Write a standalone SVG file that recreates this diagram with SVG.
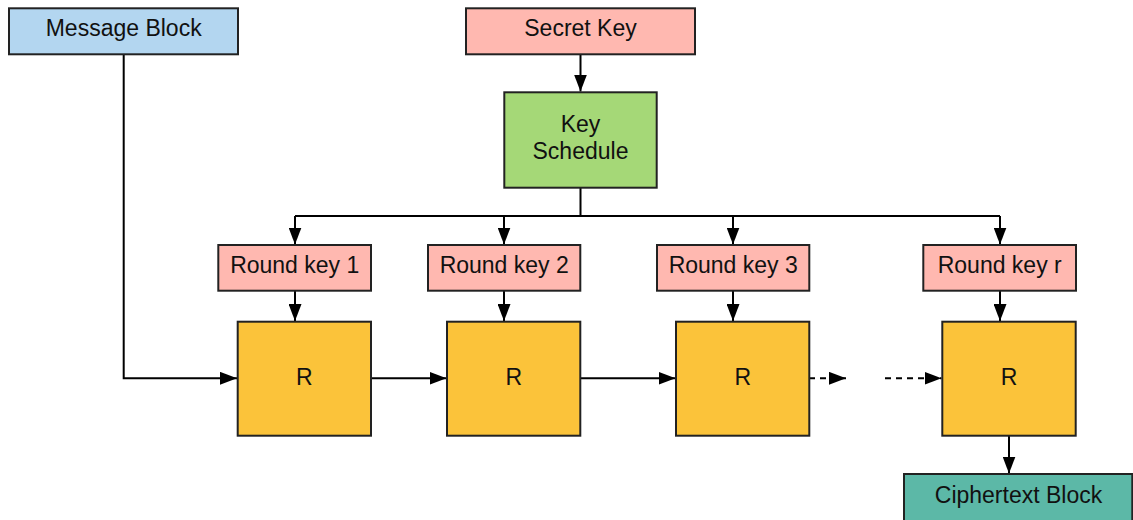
<svg xmlns="http://www.w3.org/2000/svg" width="1133" height="520" viewBox="0 0 1133 520">
<style>
.box{stroke:#222;stroke-width:2}
.t{font-family:"Liberation Sans",Arial,sans-serif;font-size:23px;fill:#111;text-anchor:middle}
.c{fill:none;stroke:#000;stroke-width:2}
.d{stroke-dasharray:6 5}
</style>
<defs>
<marker id="ah" markerUnits="userSpaceOnUse" markerWidth="17" markerHeight="13" refX="17" refY="6.5" orient="auto">
<path d="M0,0 L17,6.5 L0,13 z" fill="#000"/>
</marker>
</defs>
<rect width="1133" height="520" fill="#fff"/>
<g id="connectors">
<path class="c" d="M123.7,54 V378.3 H237" marker-end="url(#ah)"/>
<path class="c" d="M580.5,54 V91.5" marker-end="url(#ah)"/>
<path class="c" d="M580.5,188 V216 M295,216 H1000"/>
<path class="c" d="M295,216 V244.5" marker-end="url(#ah)"/>
<path class="c" d="M504,216 V244.5" marker-end="url(#ah)"/>
<path class="c" d="M733,216 V244.5" marker-end="url(#ah)"/>
<path class="c" d="M1000,216 V244.5" marker-end="url(#ah)"/>
<path class="c" d="M295,291 V321" marker-end="url(#ah)"/>
<path class="c" d="M504,291 V321" marker-end="url(#ah)"/>
<path class="c" d="M733,291 V321" marker-end="url(#ah)"/>
<path class="c" d="M1000,291 V321" marker-end="url(#ah)"/>
<path class="c" d="M371,378.3 H446.5" marker-end="url(#ah)"/>
<path class="c" d="M580.3,378.3 H675.5" marker-end="url(#ah)"/>
<path class="c d" d="M809,378.3 H846" marker-end="url(#ah)"/>
<path class="c d" d="M885,378.3 H941.5" marker-end="url(#ah)"/>
<path class="c" d="M1009,436 V473.5" marker-end="url(#ah)"/>
</g>
<g id="message-block">
<rect class="box" x="9" y="8.3" width="229" height="46" fill="#b3d6f0"/>
<text class="t" x="123.7" y="36">Message Block</text>
</g>
<g id="secret-key">
<rect class="box" x="466" y="8.3" width="229" height="46" fill="#ffb8b0"/>
<text class="t" x="580.5" y="36">Secret Key</text>
</g>
<g id="key-schedule">
<rect class="box" x="504.3" y="92.3" width="152.4" height="95.4" fill="#a5d877"/>
<text class="t" x="580.5" y="131.7">Key</text>
<text class="t" x="580.5" y="159.3">Schedule</text>
</g>
<g id="round-key-1">
<rect class="box" x="218.3" y="245" width="152.7" height="45.7" fill="#ffb8b0"/>
<text class="t" x="294.7" y="272.7">Round key 1</text>
</g>
<g id="round-key-2">
<rect class="box" x="428" y="245" width="152.3" height="45.7" fill="#ffb8b0"/>
<text class="t" x="504.2" y="272.7">Round key 2</text>
</g>
<g id="round-key-3">
<rect class="box" x="657" y="245" width="152.3" height="45.7" fill="#ffb8b0"/>
<text class="t" x="733.2" y="272.7">Round key 3</text>
</g>
<g id="round-key-r">
<rect class="box" x="923.3" y="245" width="152.7" height="45.7" fill="#ffb8b0"/>
<text class="t" x="999.7" y="272.7">Round key r</text>
</g>
<g id="round-1">
<rect class="box" x="237.7" y="321.7" width="133.3" height="114" fill="#fbc33a"/>
<text class="t" x="304.3" y="385">R</text>
</g>
<g id="round-2">
<rect class="box" x="447" y="321.7" width="133.3" height="114" fill="#fbc33a"/>
<text class="t" x="513.7" y="385">R</text>
</g>
<g id="round-3">
<rect class="box" x="676" y="321.7" width="133.3" height="114" fill="#fbc33a"/>
<text class="t" x="742.7" y="385">R</text>
</g>
<g id="round-r">
<rect class="box" x="942.3" y="321.7" width="133.4" height="114" fill="#fbc33a"/>
<text class="t" x="1009" y="385">R</text>
</g>
<g id="ciphertext-block">
<rect class="box" x="904" y="474" width="228.3" height="48" fill="#5cb8a7"/>
<text class="t" x="1018.5" y="502.7">Ciphertext Block</text>
</g>
</svg>
